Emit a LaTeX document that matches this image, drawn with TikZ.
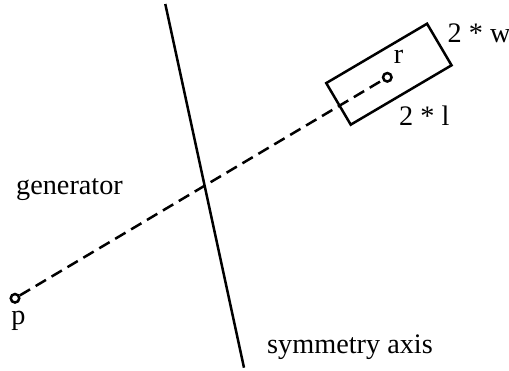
\documentclass[tikz,border=0pt]{standalone}
\usepackage{fontspec}
\setmainfont{Liberation Serif}
\begin{document}
\begin{tikzpicture}[x=0.4pt,y=-0.4pt,line width=1pt,
 font=\fontsize{11.3}{13}\selectfont,
 pt/.style={circle,draw,inner sep=0pt,minimum size=3.4pt},
 gen/.style={dash pattern=on 4.8pt off 2.6pt}]
 \useasboundingbox (0,0) rectangle (509,371);
 \coordinate (A1) at (165.3,4);
 \coordinate (A2) at (244,367.7);
 \node[pt] (p) at (15,298.3) {};
 \node[pt] (r) at (387.3,77.3) {};
 \draw (A1)--(A2);
 \draw[gen] (p)--(r);
 \node[draw,rotate=30.5,minimum width=46.8pt,minimum height=19.3pt,
 inner sep=0pt] (box) at (388.9,74.2) {};
 \node at (398.5,57) {r};
 \node at (18.5,321) {p};
 \node[anchor=west,inner sep=0pt] at (446.5,33) {2 * w};
 \node[anchor=west,inner sep=0pt] at (398,115.5) {2 * l};
 \node at (69.5,190) {generator};
 \node at (350,347) {symmetry axis};
\end{tikzpicture}
\end{document}
